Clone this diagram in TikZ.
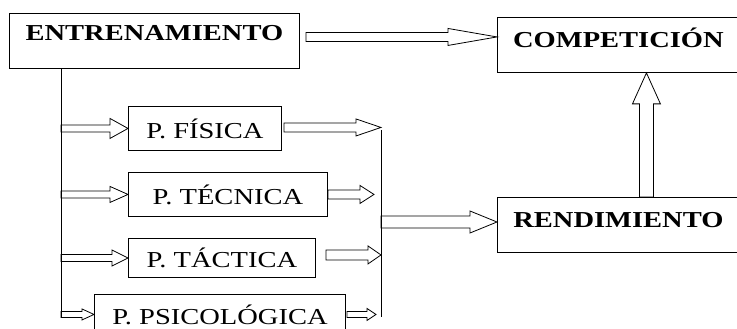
\documentclass[tikz,border=0pt]{standalone}
\usepackage{fontspec}
\setmainfont{Liberation Serif}[FakeStretch=1.25]
\usetikzlibrary{calc}

% hollow block arrows: start, tip, shaft half width, head half width, head length
\newcommand{\harrow}[5]{%
\draw[blockarrow] let \p1=(#1), \p2=(#2) in
 (\x1,\y1+#3pt) -- (\x2-#5pt,\y1+#3pt) -- (\x2-#5pt,\y1+#4pt) -- (\x2,\y1)
 -- (\x2-#5pt,\y1-#4pt) -- (\x2-#5pt,\y1-#3pt) -- (\x1,\y1-#3pt) -- cycle;}
\newcommand{\varrow}[5]{%
\draw[blockarrow] let \p1=(#1), \p2=(#2) in
 (\x1-#3pt,\y1) -- (\x1-#3pt,\y2-#5pt) -- (\x1-#4pt,\y2-#5pt) -- (\x1,\y2)
 -- (\x1+#4pt,\y2-#5pt) -- (\x1+#3pt,\y2-#5pt) -- (\x1+#3pt,\y1) -- cycle;}

\begin{document}
\begin{tikzpicture}[x=1pt, y=-1pt, line width=0.9pt,
  mainbox/.style={draw, inner sep=0pt, anchor=north west, font=\fontsize{22.8}{27}\selectfont\bfseries},
  pbox/.style={draw, inner sep=0pt, anchor=north west, font=\fontsize{22.8}{27}\selectfont},
  blockarrow/.style={line width=0.8pt, line join=miter}]

\clip (0,0) rectangle (737,329);

\node[mainbox, minimum width=290pt, text height=27pt, text depth=28pt] (ent) at (9,13) {ENTRENAMIENTO};
\node[mainbox, minimum width=242pt, text height=30pt, text depth=25pt] (comp) at (497,17) {COMPETICIÓN};
\node[mainbox, minimum width=242pt, text height=30pt, text depth=25pt] (rend) at (497,197) {RENDIMIENTO};

\node[pbox, minimum width=153pt, minimum height=44pt] (fis) at (128,106) {P. FÍSICA};
\node[pbox, minimum width=199pt, minimum height=44pt] (tec) at (128,172) {P. TÉCNICA};
\node[pbox, minimum width=187pt, minimum height=39pt] (tac) at (128,238) {P. TÁCTICA};
\node[pbox, minimum width=251pt, minimum height=40pt] (psi) at (94,294) {P. PSICOLÓGICA};

\coordinate (trunk) at (61,318);
\coordinate (bustop) at (381,130);
\coordinate (busbot) at (381,317);
\coordinate (busmid) at (381,222);

\draw (ent.south -| trunk) -- (trunk);
\draw (bustop) -- (busbot);

\harrow{$(ent.east)+(6,-4)$}{comp.west}{4.5}{8.5}{49}

\harrow{trunk |- fis.west}{fis.west}{3.5}{10}{18}
\harrow{trunk |- tec.west}{tec.west}{3.5}{8}{18}
\harrow{trunk |- tac.west}{tac.west}{3.5}{8}{16}
\harrow{trunk |- psi.west}{psi.west}{3}{5.5}{12}

\harrow{$(fis.east)+(2,-1)$}{bustop}{4.5}{8.5}{25}
\harrow{tec.east}{$(bustop)+(-7,0)$}{4.5}{9}{14}
\harrow{$(tac.east)+(10,-3)$}{bustop}{5}{9}{13}
\harrow{$(psi.east)+(1,0)$}{$(bustop)+(-5,0)$}{3}{6}{9}

\harrow{busmid}{rend.west}{6}{11}{27}
\varrow{$(rend.north)+(28,0)$}{$(comp.south)+(28,0)$}{7}{14}{31}

\end{tikzpicture}
\end{document}
